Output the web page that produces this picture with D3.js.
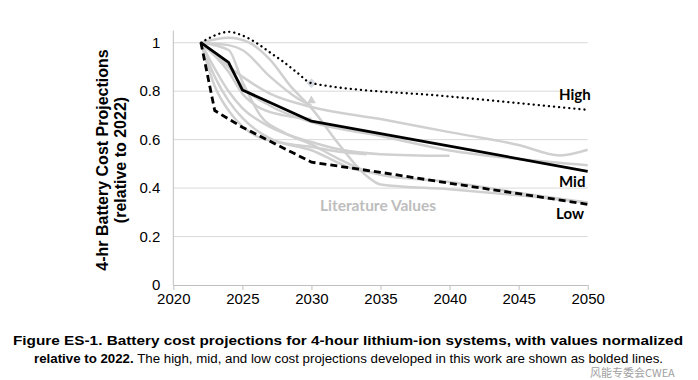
<!DOCTYPE html>
<html><head><meta charset="utf-8">
<script src="https://cdn.jsdelivr.net/npm/d3@7"></script>
<style>
html,body{margin:0;padding:0;background:#fff;}
svg{display:block;}
</style></head>
<body>
<svg id="chart" width="698" height="380"></svg>
<script>
// ---- data ----
const yTicks = [0, 0.2, 0.4, 0.6, 0.8, 1];
const xTicks = [2020, 2025, 2030, 2035, 2040, 2045, 2050];

const highYears  = [2022, 2023, 2024, 2025, 2026, 2027, 2028, 2029, 2030, 2040, 2050];
const highValues = [1.0, 1.03, 1.045, 1.03, 1.0, 0.96, 0.92, 0.875, 0.833, 0.778, 0.723];

const midYears  = [2022, 2024, 2025, 2030, 2040, 2050];
const midValues = [1.0, 0.919, 0.805, 0.676, 0.573, 0.469];

const lowYears  = [2022, 2023, 2025, 2030, 2035, 2040, 2045, 2050];
const lowValues = [1.0, 0.72, 0.651, 0.507, 0.465, 0.42, 0.377, 0.333];

// literature curves (year, value pairs)
const lit1Years = [2022, 2023, 2025, 2027, 2030, 2035, 2040, 2045, 2048, 2050];
const lit1Vals  = [1.0, 0.95, 0.86, 0.79, 0.735, 0.685, 0.631, 0.578, 0.535, 0.558];
const lit2Years = [2022, 2024, 2025, 2027, 2030, 2035, 2040, 2045, 2050];
const lit2Vals  = [1.0, 0.90, 0.82, 0.74, 0.672, 0.615, 0.555, 0.52, 0.494];
const lit3Years = [2022, 2024, 2025, 2027, 2030, 2032, 2035, 2040];
const lit3Vals  = [1.0, 0.80, 0.73, 0.653, 0.59, 0.56, 0.54, 0.533];
const lit4Years = [2022, 2024, 2025.5, 2027, 2028.5, 2030, 2032, 2034, 2035, 2040, 2045, 2050];
const lit4Vals  = [1.0, 1.02, 1.0, 0.93, 0.82, 0.73, 0.58, 0.45, 0.415, 0.395, 0.37, 0.34];
const lit5Years = [2022, 2024, 2025, 2026.3, 2028, 2030, 2032, 2034, 2035, 2040, 2045, 2050];
const lit5Vals  = [1.0, 0.97, 0.84, 0.70, 0.63, 0.58, 0.52, 0.47, 0.455, 0.425, 0.38, 0.34];
const lit6Years = [2022, 2023, 2024, 2025, 2026, 2027, 2030, 2033, 2035];
const lit6Vals  = [1.0, 0.86, 0.76, 0.69, 0.64, 0.605, 0.556, 0.48, 0.46];
const lit7Years = [2022, 2023, 2024, 2025, 2026, 2028, 2030, 2032, 2034];
const lit7Vals  = [1.0, 0.82, 0.72, 0.655, 0.615, 0.585, 0.57, 0.55, 0.54];
const lit8Years = [2022, 2024, 2025, 2027, 2029, 2030];
const lit8Vals  = [1.0, 0.99, 0.97, 0.86, 0.77, 0.74];
const lit9Years = [2022, 2024, 2025, 2026, 2028, 2030];
const lit9Vals  = [1.0, 0.88, 0.79, 0.74, 0.70, 0.685];

const litPointYear = [2030, 2030];
const litPointVals = [0.833, 0.761];

const seriesLabels = ["High", "Mid", "Low"];

// ---- drawing ----
const svg = d3.select("#chart");
const x = d3.scaleLinear().domain([2020, 2050]).range([173.3, 587.7]);
const y = d3.scaleLinear().domain([0, 1.05]).range([285, 30.6]);

const font = "'Liberation Sans', Arial, sans-serif";
const calib = "Lato, 'Open Sans', sans-serif";

// gridlines
svg.append("g").selectAll("line").data(yTicks.filter(d => d > 0)).join("line")
  .attr("x1", x(2020)).attr("x2", x(2050))
  .attr("y1", d => y(d)).attr("y2", d => y(d))
  .attr("stroke", "#d9d9d9").attr("stroke-width", 1);

// axes
const yAxis = svg.append("g").attr("transform", `translate(${x(2020)},0)`)
  .call(d3.axisLeft(y).tickValues(yTicks).tickSize(0).tickPadding(13).tickFormat(d3.format("~g")));
yAxis.select(".domain").attr("stroke", "#bfbfbf").attr("d", `M0,${y(1.05)}V${y(0)}`);
yAxis.selectAll("text").attr("font-family", font).attr("font-size", 15).attr("fill", "#000");

const xAxis = svg.append("g").attr("transform", `translate(0,${y(0)})`)
  .call(d3.axisBottom(x).tickValues(xTicks).tickSize(5).tickPadding(3).tickFormat(d3.format("d")));
xAxis.select(".domain").attr("stroke", "#bfbfbf").attr("d", `M${x(2020)},0.5H${x(2050)}`);
xAxis.selectAll("line").attr("stroke", "#bfbfbf");
xAxis.selectAll("text").attr("font-family", font).attr("font-size", 15).attr("fill", "#000");

// y title
const yt = svg.append("text").attr("transform", "translate(102,160) rotate(-90)")
  .attr("text-anchor", "middle").attr("font-family", font).attr("font-weight", "bold")
  .attr("font-size", 16).attr("fill", "#000");
yt.append("tspan").attr("x", 0).attr("dy", "0.35em").text("4-hr Battery Cost Projections");
yt.append("tspan").attr("x", 0).attr("dy", "1.15em").text("(relative to 2022)");

// literature lines
const litSets = [
  [lit1Years, lit1Vals], [lit2Years, lit2Vals], [lit3Years, lit3Vals],
  [lit4Years, lit4Vals], [lit5Years, lit5Vals], [lit6Years, lit6Vals],
  [lit7Years, lit7Vals], [lit8Years, lit8Vals], [lit9Years, lit9Vals]
];
const litLine = d3.line().x(d => x(d[0])).y(d => y(d[1])).curve(d3.curveMonotoneX);
svg.append("g").selectAll("path").data(litSets.map(s => d3.zip(s[0], s[1]))).join("path")
  .attr("d", litLine).attr("fill", "none").attr("stroke", "#d0d0d0")
  .attr("stroke-width", 2.5).attr("stroke-linejoin", "round");

// literature points
svg.append("path").attr("d", d3.symbol(d3.symbolDiamond2, 60)())
  .attr("transform", `translate(${x(litPointYear[0])},${y(litPointVals[0])})`)
  .attr("fill", "#d6dbe3");
svg.append("path").attr("d", d3.symbol(d3.symbolTriangle2, 55)())
  .attr("transform", `translate(${x(litPointYear[1])},${y(litPointVals[1])})`)
  .attr("fill", "#cfcfcf");

// projections
const highLine = d3.line().x(d => x(d[0])).y(d => y(d[1])).curve(d3.curveMonotoneX);
const straight = d3.line().x(d => x(d[0])).y(d => y(d[1]));

svg.append("path").attr("d", highLine(d3.zip(highYears, highValues)))
  .attr("fill", "none").attr("stroke", "#000").attr("stroke-width", 2.3)
  .attr("stroke-dasharray", "0.1 5").attr("stroke-linecap", "round");
svg.append("path").attr("d", straight(d3.zip(midYears, midValues)))
  .attr("fill", "none").attr("stroke", "#000").attr("stroke-width", 2.8)
  .attr("stroke-linejoin", "round");
svg.append("path").attr("d", straight(d3.zip(lowYears, lowValues)))
  .attr("fill", "none").attr("stroke", "#000").attr("stroke-width", 2.8)
  .attr("stroke-dasharray", "7 4");

// series labels
const labelPos = [[559, 99.5], [559, 187], [556, 219]];
svg.append("g").selectAll("text").data(seriesLabels).join("text")
  .attr("x", (d, i) => labelPos[i][0]).attr("y", (d, i) => labelPos[i][1])
  .attr("font-family", calib).attr("font-weight", "bold")
  .attr("font-size", 15).attr("fill", "#000").text(d => d);

svg.append("text").attr("x", 378).attr("y", 211).attr("text-anchor", "middle")
  .attr("font-family", calib).attr("font-weight", "bold").attr("font-size", 15.5)
  .attr("fill", "#bdbdbd").text("Literature Values");

// caption
svg.append("text").attr("x", 13).attr("y", 345)
  .attr("font-family", font).attr("font-size", 13).attr("font-weight", "bold").attr("fill", "#000")
  .attr("textLength", 670).attr("lengthAdjust", "spacingAndGlyphs")
  .text("Figure ES-1. Battery cost projections for 4-hour lithium-ion systems, with values normalized");
const c2 = svg.append("text").attr("x", 34).attr("y", 363)
  .attr("font-family", font).attr("font-size", 13).attr("fill", "#000")
  .attr("textLength", 629).attr("lengthAdjust", "spacingAndGlyphs");
c2.append("tspan").attr("font-weight", "bold").text("relative to 2022.");
c2.append("tspan").text(" The high, mid, and low cost projections developed in this work are shown as bolded lines.");

// watermark
svg.append("text").attr("x", 590).attr("y", 377).attr("font-family", "'Noto Sans CJK SC', sans-serif")
  .attr("font-size", 11).attr("fill", "#8a8a8a").attr("opacity", 0.8).text("风能专委会CWEA");
</script>
</body></html>
